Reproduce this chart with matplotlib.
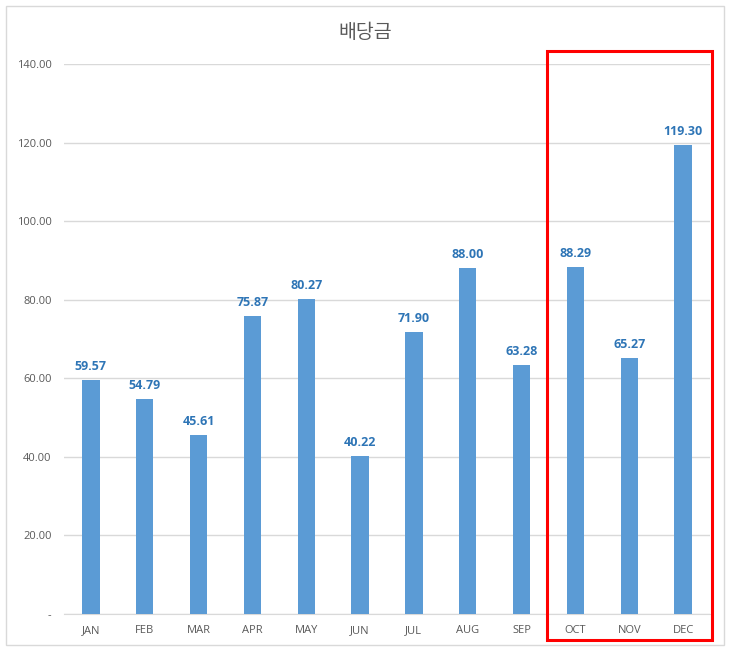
import matplotlib
matplotlib.use("Agg")
import matplotlib.pyplot as plt
from matplotlib.patches import Rectangle

plt.rcParams['font.family'] = ['Open Sans', 'Noto Sans CJK KR', 'DejaVu Sans']

months = ["JAN", "FEB", "MAR", "APR", "MAY", "JUN", "JUL", "AUG", "SEP", "OCT", "NOV", "DEC"]
dividends = [59.57, 54.79, 45.61, 75.87, 80.27, 40.22, 71.90, 88.00, 63.28, 88.29, 65.27, 119.30]
y_ticks = [0, 20, 40, 60, 80, 100, 120, 140]
y_tick_labels = ["-", "20.00", "40.00", "60.00", "80.00", "100.00", "120.00", "140.00"]

W, H = 730, 652
fig = plt.figure(figsize=(W / 100, H / 100), dpi=100)

# 바깥 차트 테두리
fig.add_artist(Rectangle((6 / W, 1 - 645 / H), 718 / W, 639 / H, transform=fig.transFigure,
                         fill=False, edgecolor="#D9D9D9", linewidth=1))

ax = fig.add_axes([64 / W, 1 - 614 / H, 646 / W, 550 / H])
x = range(len(months))
bars = ax.bar(x, dividends, width=0.32, color="#5B9BD5", zorder=3)

for xi, v in zip(x, dividends):
    ax.annotate(f"{v:.2f}", (xi, v), xytext=(0, 5), textcoords="offset points",
                ha="center", va="bottom", fontsize=9, fontweight="bold", color="#2E75B6")

ax.set_xlim(-0.5, len(months) - 0.5)
ax.set_ylim(0, 140)
ax.set_yticks(y_ticks)
ax.set_yticklabels(y_tick_labels)
ax.set_xticks(list(x))
ax.set_xticklabels(months)
ax.tick_params(axis="both", length=0, labelsize=8, labelcolor="#595959")
ax.tick_params(axis="y", pad=9)
ax.tick_params(axis="x", pad=8)
ax.grid(axis="y", color="#D9D9D9", linewidth=1, zorder=0)
for s in ["top", "right", "left"]:
    ax.spines[s].set_visible(False)
ax.spines["bottom"].set_color("#D9D9D9")

fig.text(365 / W, 1 - 32 / H, "배당금", ha="center", va="center", fontsize=14,
         color="#595959", family=["Noto Sans CJK KR", "DejaVu Sans"])

# 강조 박스 (OCT~DEC)
fig.add_artist(Rectangle((547 / W, 1 - 640 / H), 165 / W, 589 / H, transform=fig.transFigure,
                         fill=False, edgecolor="#FF0000", linewidth=2.2))

fig.savefig("out.png", dpi=100)
